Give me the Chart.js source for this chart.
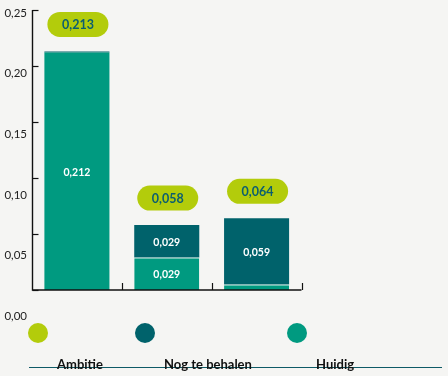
<!DOCTYPE html>
<html>
<head>
<meta charset="utf-8">
<script src="https://cdn.jsdelivr.net/npm/chart.js@4/dist/chart.umd.min.js"></script>
<style>
  html, body { margin: 0; padding: 0; background: #F5F5F3; }
  #wrap { position: relative; width: 448px; height: 376px; overflow: hidden; font-family: Lato, "Noto Sans", sans-serif; }
  canvas { position: absolute; left: 0; top: 0; }
  .rule { position: absolute; left: 29px; width: 413px; top: 367px; height: 1px; background: #0E5A66; }
  .item { position: absolute; top: 323px; height: 50px; }
  .dot { position: absolute; left: 0; top: 0; width: 20px; height: 20px; border-radius: 50%; }
  .lbl { position: absolute; top: 34px; white-space: nowrap; font-weight: 700; font-size: 13px; line-height: 15px; color: #111; }
</style>
</head>
<body>
<div id="wrap">
  <canvas id="c" width="448" height="376"></canvas>
  <div class="rule"></div>
  <div id="legend"></div>
</div>
<script>
// ---- data ----
const categories = ['Staaf 1', 'Staaf 2', 'Staaf 3'];
const huidig = [0.212, 0.029, 0.005];
const nogTeBehalen = [0.001, 0.029, 0.059];
const ambitie = [0.213, 0.058, 0.064];
const yTicks = [0, 0.05, 0.10, 0.15, 0.20, 0.25];
const legendNames = ['Ambitie', 'Nog te behalen', 'Huidig'];

const LIME = '#B3CC0B';
const DARK = '#00626B';
const LIGHT = '#009A80';
const legendColors = [LIME, DARK, LIGHT];

const fmt = v => v.toFixed(3).replace('.', ',');
const fmt2 = v => v.toFixed(2).replace('.', ',');

// legend (HTML)
const legendPos = [28, 135, 287];
const lg = document.getElementById('legend');
legendNames.forEach((n, i) => {
  const it = document.createElement('div');
  it.className = 'item';
  it.style.left = legendPos[i] + 'px';
  it.innerHTML = '<div class="dot" style="background:' + legendColors[i] + '"></div><div class="lbl" style="left:29px">' + n + '</div>';
  lg.appendChild(it);
});

const decor = {
  id: 'decor',
  afterDatasetsDraw(chart) {
    const ctx = chart.ctx;
    const x = chart.scales.x, y = chart.scales.y;
    const ca = chart.chartArea;
    ctx.save();
    // segment value labels
    ctx.fillStyle = '#FFFFFF';
    ctx.font = 'bold 10.5px Lato, "Noto Sans", sans-serif';
    ctx.textAlign = 'center';
    ctx.textBaseline = 'middle';
    chart.data.datasets.forEach((ds, di) => {
      const meta = chart.getDatasetMeta(di);
      meta.data.forEach((el, i) => {
        const v = ds.data[i];
        if (v < 0.01) return;
        ctx.fillText(fmt(v), el.x, (el.y + el.base) / 2 + 1);
      });
    });
    // axes
    ctx.strokeStyle = '#111';
    ctx.lineWidth = 1.4;
    const x0 = Math.round(ca.left) + 0.5;
    const yb = y.getPixelForValue(0);
    ctx.beginPath();
    ctx.moveTo(x0, y.getPixelForValue(0.25));
    ctx.lineTo(x0, yb);
    ctx.lineTo(ca.right, yb);
    ctx.stroke();
    ctx.lineWidth = 1.2;
    yTicks.forEach(v => {
      const py = Math.round(y.getPixelForValue(v)) + 0.5;
      ctx.beginPath(); ctx.moveTo(x0, py); ctx.lineTo(x0 + 6, py); ctx.stroke();
    });
    const half = (x.getPixelForValue(1) - x.getPixelForValue(0)) / 2;
    categories.forEach((c, i) => {
      const px = Math.round(x.getPixelForValue(i) + half) + 0.5;
      ctx.beginPath(); ctx.moveTo(px, yb); ctx.lineTo(px, yb - 7); ctx.stroke();
    });
    // y tick labels (spread a bit wider than the ticks, as in the original)
    ctx.fillStyle = '#222';
    ctx.font = '11.5px Lato, "Noto Sans", sans-serif';
    ctx.textAlign = 'right';
    const lTop = y.getPixelForValue(0.25) + 2, lBot = y.getPixelForValue(0) + 25;
    yTicks.forEach(v => {
      const py = lBot - (v / 0.25) * (lBot - lTop);
      ctx.fillText(fmt2(v), 27, py + 1);
    });
    // Ambitie pills
    ctx.font = 'bold 12.5px Lato, "Noto Sans", sans-serif';
    ctx.textAlign = 'center';
    ambitie.forEach((v, i) => {
      const cx = x.getPixelForValue(i) + 1;
      const cy = y.getPixelForValue(v) - 27;
      const w = 61, h = 25, r = 12.5;
      ctx.fillStyle = LIME;
      ctx.beginPath();
      ctx.roundRect(cx - w / 2, cy - h / 2, w, h, r);
      ctx.fill();
      ctx.fillStyle = '#0B5E70';
      ctx.fillText(fmt(v), cx, cy + 1);
    });
    ctx.restore();
  }
};

new Chart(document.getElementById('c'), {
  type: 'bar',
  data: {
    labels: categories,
    datasets: [
      { label: 'Huidig', data: huidig, backgroundColor: LIGHT, borderColor: 'rgba(190,235,225,0.75)',
        borderWidth: c => ({ top: nogTeBehalen[c.dataIndex] >= 0.01 ? 1 : 0, left: 0, right: 0, bottom: 0 }),
        borderSkipped: false, barPercentage: 0.724, categoryPercentage: 1 },
      { label: 'Nog te behalen', data: nogTeBehalen, backgroundColor: DARK, borderWidth: 0, barPercentage: 0.724, categoryPercentage: 1 }
    ]
  },
  options: {
    responsive: false,
    animation: false,
    devicePixelRatio: 1,
    layout: { padding: { left: 32, right: 146.5, top: 10, bottom: 86 } },
    plugins: { legend: { display: false }, tooltip: { enabled: false } },
    scales: {
      x: { display: false, stacked: true, offset: true },
      y: { display: false, stacked: true, min: 0, max: 0.25 }
    }
  },
  plugins: [decor]
});
</script>
</body>
</html>
